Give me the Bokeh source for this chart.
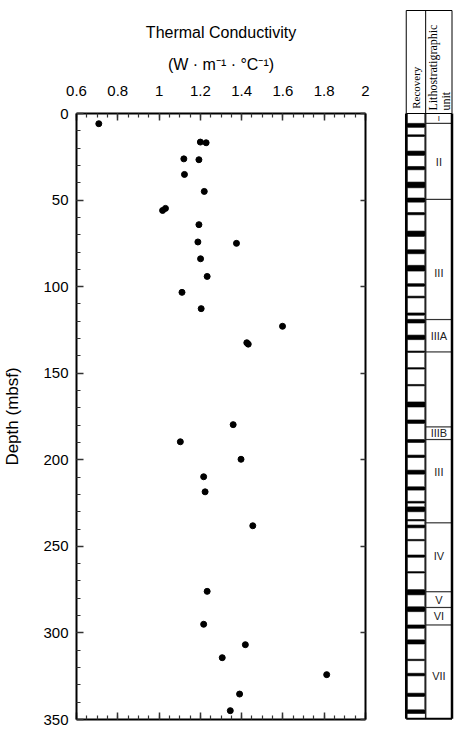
import math
from bokeh.plotting import figure
from bokeh.models import Range1d, FixedTicker, LinearAxis, Title, NumeralTickFormatter
from bokeh.embed import file_html
from bokeh.resources import INLINE
from bokeh.core.properties import value

# ---------------- data ----------------
conductivity = [0.708, 1.200, 1.228, 1.120, 1.193, 1.123, 1.219, 1.017, 1.031, 1.193,
                1.188, 1.375, 1.201, 1.233, 1.111, 1.204, 1.598, 1.425, 1.432, 1.359,
                1.103, 1.397, 1.216, 1.223, 1.454, 1.233, 1.216, 1.418, 1.306, 1.812,
                1.390, 1.345]
depth = [5.9, 16.5, 16.9, 26.2, 26.7, 35.2, 45.0, 56.0, 54.8, 64.2,
         74.2, 75.0, 83.9, 94.1, 103.3, 112.7, 122.9, 132.4, 133.2, 179.7,
         189.6, 199.7, 209.8, 218.5, 238.1, 276.0, 295.0, 306.8, 314.3, 324.1,
         335.3, 344.9]

x_ticks = [0.6, 0.8, 1.0, 1.2, 1.4, 1.6, 1.8, 2.0]
x_tick_labels = ["0.6", "0.8", "1", "1.2", "1.4", "1.6", "1.8", "2"]
y_ticks = [0, 50, 100, 150, 200, 250, 300, 350]
y_tick_labels = ["0", "50", "100", "150", "200", "250", "300", "350"]

# lithostratigraphic units (depth, mbsf)
unit_names = ["I", "II", "III", "IIIA", "", "IIIB", "III", "IV", "V", "VI", "VII"]
unit_top = [0.0, 5.7, 49.6, 119.0, 137.7, 181.0, 188.3, 236.4, 276.2, 285.3, 295.4]
unit_bottom = [5.7, 49.6, 119.0, 137.7, 181.0, 188.3, 236.4, 276.2, 285.3, 295.4, 349.6]
unit_label_depth = [2.8, 28.0, 92.0, 128.5, 159.0, 184.6, 207.0, 255.5, 280.7, 290.3, 325.0]

# core recovery: black (recovered) intervals, top/bottom depth
rec_top = [5.7, 12.3, 21.7, 30.6, 39.6, 48.8, 57.2, 67.9, 78.7, 87.7,
           98.3, 105.5, 115.2, 118.9, 128.0, 137.2, 146.8, 156.5, 166.6, 177.0,
           188.3, 197.3, 206.0, 215.6, 224.0, 227.2, 234.5, 237.7, 246.0, 255.0,
           264.6, 275.0, 284.9, 295.4, 304.0, 315.2, 323.3, 334.8, 344.4]
rec_bottom = [8.0, 13.3, 24.2, 32.5, 42.9, 51.2, 58.5, 71.0, 81.0, 91.0,
              99.8, 106.5, 116.5, 121.0, 130.6, 138.0, 147.6, 157.3, 169.5, 179.0,
              190.0, 198.7, 208.3, 217.5, 225.0, 230.0, 235.3, 239.3, 246.8, 256.3,
              265.4, 278.0, 287.7, 297.3, 306.4, 316.0, 324.8, 336.7, 346.7]

# ---------------- layout constants ----------------
BL, BR, BT, BB = 72, 90, 113, 20
FRAME_W, FRAME_H = 293, 606
PX_PER_M = FRAME_H / 350.0
STRIP_X0 = 406 - BL              # strip x=0 sits this many px right of frame left
SANS = "Liberation Sans"
SERIF = "Liberation Serif"

p = figure(width=BL + FRAME_W + BR, height=BT + FRAME_H + BB,
           x_range=Range1d(0.6, 2.0), y_range=Range1d(350, 0),
           x_axis_location="above", output_backend="svg", toolbar_location=None,
           min_border_left=BL, min_border_right=BR, min_border_top=BT, min_border_bottom=BB)
p.extra_x_ranges = {"strip": Range1d(-STRIP_X0, FRAME_W - STRIP_X0)}
p.grid.visible = False
p.outline_line_color = None
p.background_fill_color = "white"
p.border_fill_color = "white"

x_minor = [round(0.6 + 0.05 * i, 2) for i in range(29)]
y_minor = list(range(0, 351, 10))

def style_axis(ax, major_in=7, minor_in=4):
    ax.axis_line_color = "black"
    ax.axis_line_width = 2
    ax.major_tick_in = major_in
    ax.major_tick_out = 0
    ax.minor_tick_in = minor_in
    ax.minor_tick_out = 0
    ax.major_tick_line_color = "#333333"
    ax.major_tick_line_width = 1.5
    ax.minor_tick_line_color = "#333333"
    ax.minor_tick_line_width = 1.2
    ax.major_label_text_font = SANS
    ax.major_label_text_font_size = "15px"
    ax.major_label_text_color = "black"

top = p.xaxis[0]
top.ticker = FixedTicker(ticks=x_ticks, minor_ticks=x_minor)
top.formatter = NumeralTickFormatter(format="0.[0]")
top.major_label_overrides = dict(zip(x_ticks, x_tick_labels))
style_axis(top)
top.major_label_standoff = 18

bottom = LinearAxis(ticker=FixedTicker(ticks=x_ticks, minor_ticks=x_minor))
style_axis(bottom)
bottom.major_label_overrides = {t: "" for t in x_ticks}
bottom.major_label_standoff = 0
p.add_layout(bottom, "below")

left = p.yaxis[0]
left.ticker = FixedTicker(ticks=y_ticks, minor_ticks=y_minor)
left.major_label_overrides = dict(zip(y_ticks, y_tick_labels))
style_axis(left)
left.major_label_standoff = 8
left.axis_label = "Depth (mbsf)"
left.axis_label_text_font = SANS
left.axis_label_text_font_size = "17px"
left.axis_label_text_font_style = "normal"
left.axis_label_text_color = "black"
left.axis_label_standoff = 18

right = LinearAxis(ticker=FixedTicker(ticks=y_ticks, minor_ticks=[]))
style_axis(right, major_in=5, minor_in=0)
right.minor_tick_line_color = None
right.major_label_overrides = {t: "" for t in y_ticks}
right.major_label_standoff = 0
p.add_layout(right, "right")

p.add_layout(Title(text="(W · m⁻¹ · °C⁻¹)", align="center", text_font=SANS,
                   text_font_size="16px", text_font_style="normal", text_color="black",
                   standoff=19), "above")
p.add_layout(Title(text="Thermal Conductivity", align="center", text_font=SANS,
                   text_font_size="16px", text_font_style="normal", text_color="black",
                   standoff=8), "above")

p.scatter(x=conductivity, y=depth, size=6, color="black")

# ---------------- stratigraphic strip (drawn beside the frame) ----------------
head_top = -(BT - 10) / PX_PER_M
strip_bottom = unit_bottom[-1]
REC_R = 20.0
LITH_R = 46.7
kw = dict(x_range_name="strip", level="overlay")

cell_top = [0.0] + rec_bottom[:-1]
p.quad(left=1.3, right=19.0, top=cell_top, bottom=rec_top,
       fill_color="white", line_color="#666666", line_width=1, **kw)
p.quad(left=0.5, right=REC_R, top=rec_top, bottom=rec_bottom,
       fill_color="black", line_color=None, **kw)
p.segment(x0=REC_R, x1=LITH_R, y0=unit_top[1:], y1=unit_top[1:],
          line_color="#333333", line_width=1.2, **kw)
fs = ["8px"] + ["11px"] * (len(unit_names) - 1)
p.text(x=[33.4] * len(unit_names), y=unit_label_depth, text=unit_names,
       text_align="center", text_baseline="middle", text_font=value(SANS),
       text_font_size=fs, text_color="#222222", **kw)
p.segment(x0=[0.3, LITH_R], x1=[0.3, LITH_R], y0=[0, 0], y1=[strip_bottom, strip_bottom],
          line_color="black", line_width=2.5, **kw)
p.segment(x0=[REC_R], x1=[REC_R], y0=[0], y1=[strip_bottom],
          line_color="#222222", line_width=1.5, **kw)
p.segment(x0=[0.3], x1=[LITH_R], y0=[strip_bottom], y1=[strip_bottom],
          line_color="black", line_width=2, **kw)

# header box
p.segment(x0=[0.3, REC_R, LITH_R, 0.3, 0.3], x1=[0.3, REC_R, LITH_R, LITH_R, LITH_R],
          y0=[head_top, head_top, head_top, head_top, 0], y1=[0, 0, 0, head_top, 0],
          line_color="black", line_width=1, **kw)
p.text(x=[10.5], y=[-2.7], text=["Recovery"], angle=math.pi / 2,
       text_align="left", text_baseline="middle", text_font=value(SERIF),
       text_font_size="11px", text_color="black", **kw)
p.text(x=[27.3, 40.7], y=[-1.7, -1.7], text=["Lithostratigraphic", "unit"], angle=math.pi / 2,
       text_align="left", text_baseline="middle", text_font=value(SERIF),
       text_font_size="12px", text_color="black", **kw)

open("out.html", "w").write(file_html(p, INLINE))
